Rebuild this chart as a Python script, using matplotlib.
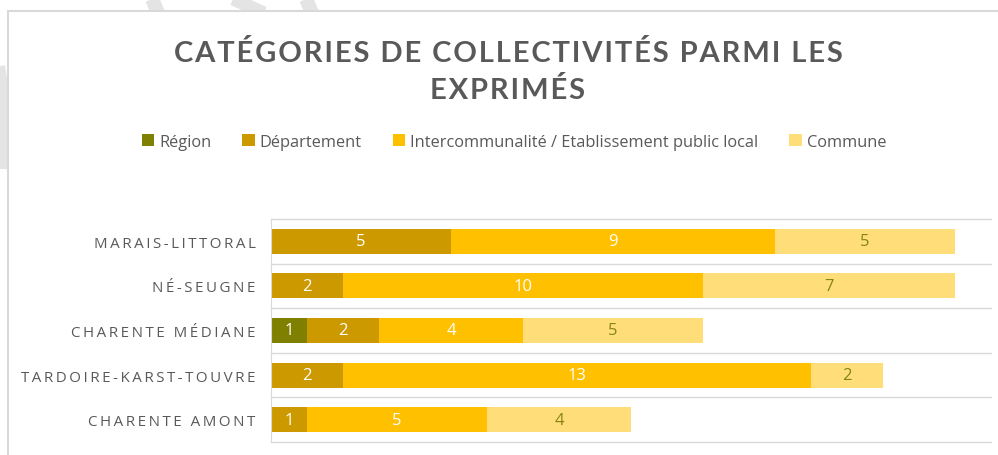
import numpy as np
import matplotlib
matplotlib.use('Agg')
import matplotlib.pyplot as plt
from matplotlib.lines import Line2D
from matplotlib.patches import Rectangle, Patch

plt.rcParams['font.family'] = ['Open Sans', 'DejaVu Sans']

## donnees
categories = ['MARAIS-LITTORAL', 'NÉ-SEUGNE', 'CHARENTE MÉDIANE',
              'TARDOIRE-KARST-TOUVRE', 'CHARENTE AMONT']
series = ['Région', 'Département',
          'Intercommunalité / Etablissement public local', 'Commune']
region = [0, 0, 1, 0, 0]
departement = [5, 2, 2, 2, 1]
interco = [9, 10, 4, 13, 5]
commune = [5, 7, 5, 2, 4]
valeurs = [region, departement, interco, commune]

couleurs = ['#7F7F00', '#CC9900', '#FFC000', '#FFDE7A']
couleurs_txt = ['white', 'white', 'white', '#858515']
gris = '#595959'
ligne = '#D9D9D9'

W, H = 998, 456
def fx(x): return x / W
def fy(y): return 1 - y / H

def espace(s, sep='\u2009'):
    # espacement des lettres (pas de letter-spacing dans matplotlib)
    return sep.join(s)

fig = plt.figure(figsize=(W / 100, H / 100), dpi=100)

## traits gris du filigrane, hors du cadre
traits = [([150, 158], [-5, 14], 14), ([222, 264], [-5, 14], 13),
          ([304, 312], [-5, 14], 14), ([-3, 6, 3], [55, 110, 170], 12)]
for xs, ys, lw in traits:
    fig.add_artist(Line2D([fx(v) for v in xs], [fy(v) for v in ys],
                          color='#E4E4E4', lw=lw * 0.72, zorder=-3,
                          solid_capstyle='butt'))
## cadre du graphique
fig.add_artist(Rectangle((fx(8), fy(470)), fx(1020) - fx(8), fy(12) - fy(470),
                         transform=fig.transFigure, facecolor='white',
                         edgecolor=ligne, lw=1.5, zorder=-2))

ax = fig.add_axes([fx(271), fy(443), fx(991) - fx(271), fy(220) - fy(443)])
ax.set_facecolor('none')
y = np.arange(len(categories))
gauche = np.zeros(len(categories))
for k, vals in enumerate(valeurs):
    vals = np.array(vals)
    barres = ax.barh(y, vals, left=gauche, height=0.56, color=couleurs[k],
                     label=series[k])
    lab = [str(v) if v > 0 else '' for v in vals]
    ax.bar_label(barres, labels=lab, label_type='center',
                 color=couleurs_txt[k], fontsize=12)
    gauche += vals

ax.set_xlim(0, 20)
ax.set_ylim(len(categories) - 0.5, -0.5)
ax.set_xticks([])
ax.set_yticks(y)
ax.set_yticklabels([espace(c) for c in categories], color=gris, fontsize=10.9)
ax.tick_params(axis='y', length=0, pad=11)
for s in ['top', 'right', 'bottom']:
    ax.spines[s].set_visible(False)
ax.spines['left'].set_color(ligne)
for b in np.arange(-0.5, len(categories), 1.0):
    ax.axhline(b, color=ligne, lw=1, clip_on=False, zorder=0)

## titre
fig.text(fx(508), fy(72), espace('CATÉGORIES DE COLLECTIVITÉS PARMI LES', '\u200a')
         + '\n' + espace('EXPRIMÉS', '\u200a'), ha='center', va='center',
         fontsize=21, fontweight='bold', color=gris, linespacing=1.48,
         family=['Lato', 'DejaVu Sans'])

## legende
poignees = [Patch(facecolor=c) for c in couleurs]
fig.legend(poignees, series, loc='center', bbox_to_anchor=(fx(514), fy(143)),
           ncol=4, frameon=False, fontsize=11.8, labelcolor=gris,
           handlelength=0.75, handleheight=0.75, handletextpad=0.3,
           columnspacing=1.9, borderpad=0)

fig.savefig('out.png', dpi=100)
